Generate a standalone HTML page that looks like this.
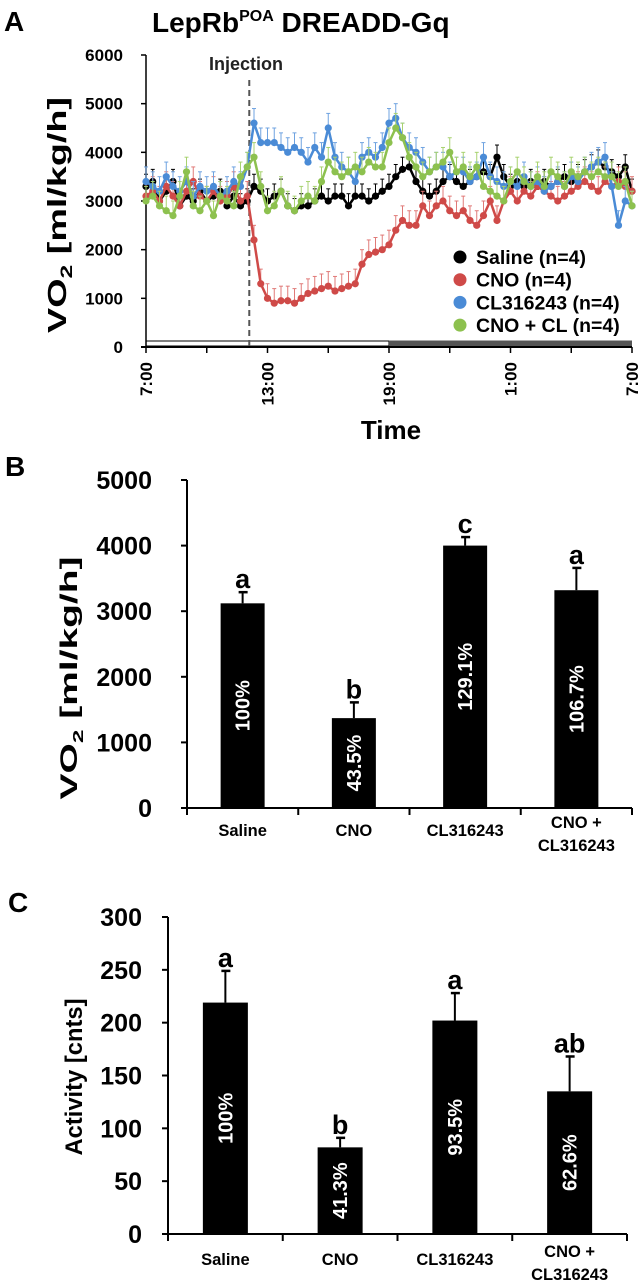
<!DOCTYPE html>
<html><head><meta charset="utf-8">
<style>
html,body{margin:0;padding:0;background:#fff;}
svg{display:block;font-family:"Liberation Sans",Arial,sans-serif;font-weight:bold;}
</style></head>
<body>
<svg id="fig" width="644" height="1280" viewBox="0 0 644 1280" xmlns="http://www.w3.org/2000/svg">
<rect width="644" height="1280" fill="#fff"/>
<text x="4" y="31" font-size="28">A</text>
<text x="152" y="32" font-size="28">LepRb<tspan font-size="16" dy="-11">POA</tspan><tspan dy="11"> DREADD-Gq</tspan></text>
<text x="5" y="476" font-size="28">B</text>
<text x="8" y="912" font-size="28">C</text>
<g id="pa"></g>
<g id="pb"></g>
<g id="pc"></g>
</svg>
<script>
// ---------- Panel A data (every 20 min from 7:00) ----------
const timeTicks = ["7:00","","13:00","","19:00","","1:00","","7:00"];
const yTicksA = [0,1000,2000,3000,4000,5000,6000];
const seriesNames = ["Saline (n=4)","CNO (n=4)","CL316243 (n=4)","CNO + CL (n=4)"];
const saline = [3300,3400,3000,3200,3400,2900,3100,3000,3200,3000,3100,3200,2900,3100,2900,3000,3300,3200,3000,3100,3200,2900,2800,2900,2900,3000,3100,3000,3100,3100,2900,3100,3100,3000,3100,3200,3300,3500,3650,3700,3400,3200,3100,3200,3400,3500,3400,3300,3400,3500,3600,3500,3900,3500,3300,3400,3300,3400,3300,3400,3300,3400,3500,3400,3500,3600,3700,3800,3700,3600,3500,3700,3200];
const cno = [3100,3200,3000,3300,3100,2900,3200,3400,3100,3000,3200,3000,3100,3300,3000,3100,2200,1300,1000,900,950,950,900,1000,1100,1150,1200,1250,1150,1200,1250,1300,1700,1900,1950,2000,2100,2400,2600,2500,2500,2900,2700,2900,3000,2800,2700,2800,2600,2500,2700,3000,2600,3000,3200,3000,3200,3100,3300,3200,3100,3000,3100,3200,3300,3400,3300,3200,3400,3300,3400,3300,3200];
const cl = [3400,3300,3200,3500,3300,3200,3400,3100,3300,3200,3300,3100,3200,3400,3300,3700,4600,4200,4200,4200,4100,4000,4100,4000,3800,4100,3900,4500,3900,3700,3600,3400,3900,4000,3900,4100,4600,4700,4300,4100,4000,3800,3600,3700,3700,3500,3600,3600,3400,3500,3900,3500,3400,3300,3400,3300,3500,3300,3400,3200,3300,3400,3300,3500,3400,3600,3700,3800,3900,3300,2500,3000,2900];
const cnocl = [3000,3100,2900,2800,2700,3100,3600,2900,2800,3000,2700,3100,3000,2900,3500,3700,3900,3300,2800,2900,3200,2900,2800,3000,3100,3000,3400,3800,3600,3500,3600,3700,3600,3800,3700,3700,4200,4500,4300,3900,3700,3500,3600,3700,3800,4000,3600,3700,3500,3700,3300,3200,3100,3000,3400,3600,3400,3300,3500,3300,3600,3500,3300,3600,3500,3600,3500,3600,3500,3500,3300,3400,2900];
const seriesErr = [250,300,300,300];
const injectionHour = 5.1;

// ---------- Panel B / C data ----------
const categories = ["Saline","CNO","CL316243","CNO +|CL316243"];
const vo2Means = [3120,1370,4000,3320];
const vo2Err = [170,240,130,340];
const vo2Letters = ["a","b","c","a"];
const vo2Pct = ["100%","43.5%","129.1%","106.7%"];
const yTicksB = [0,1000,2000,3000,4000,5000];
const actMeans = [219,82,202,135];
const actErr = [30,9,26,33];
const actLetters = ["a","b","a","ab"];
const actPct = ["100%","41.3%","93.5%","62.6%"];
const yTicksC = [0,50,100,150,200,250,300];

const NS="http://www.w3.org/2000/svg";
function mk(parent,tag,attrs,text){const e=document.createElementNS(NS,tag);for(const k in attrs)e.setAttribute(k,attrs[k]);if(text!==undefined)e.textContent=text;parent.appendChild(e);return e;}

// ---------- Panel A ----------
(function(){
 const g=document.getElementById('pa');
 const x0=146,x1=632,y0=347,yTop=55;
 const xh=h=>x0+(x1-x0)*h/24;
 const xi=i=>xh(i/3);
 const y=v=>y0-(y0-yTop)*v/6000;
 // light/dark bar
 let e=mk(g,'rect',{x:xh(0),y:341,width:xh(12)-xh(0),height:5,fill:'#fff',stroke:'#000','stroke-width':1});
 
 
 e=mk(g,'rect',{x:xh(12),y:340.5,width:xh(24)-xh(12),height:6,fill:'#555'});
 
 
 // axes
 e=mk(g,'line',{x1:x0,y1:yTop,x2:x0,y2:y0,stroke:'#000','stroke-width':1.5});
 
 
 e=mk(g,'line',{x1:x0-5,y1:y0,x2:x1,y2:y0,stroke:'#000','stroke-width':2});
 
 
 yTicksA.forEach(v=>{
  let t=mk(g,'line',{x1:x0-5,y1:y(v),x2:x0,y2:y(v),stroke:'#000','stroke-width':1.5});
  
  
  t=mk(g,'text',{x:123,y:y(v)+6,'font-size':17,'text-anchor':'end'},String(v));
  
  
 });
 timeTicks.forEach((lab,k)=>{
  const xx=xh(k*3);
  let t=mk(g,'line',{x1:xx,y1:y0,x2:xx,y2:y0+6,stroke:'#000','stroke-width':1.5});
  
  
  if(lab){
   t=mk(g,'text',{x:0,y:0,'font-size':17,'text-anchor':'end',transform:`translate(${xx+6},362) rotate(-90)`},lab);
   
   
  }
 });
 e=mk(g,'text',{x:0,y:0,'font-size':26,'text-anchor':'middle',textLength:236,lengthAdjust:'spacingAndGlyphs',transform:'translate(66,215) rotate(-90)'});
 e.innerHTML='VO<tspan font-size="17" dy="6">2</tspan><tspan dy="-6"> [ml/kg/h]</tspan>';
 
 
 e=mk(g,'text',{x:391,y:439,'font-size':26,'text-anchor':'middle'},'Time');
 
 
 // injection
 e=mk(g,'line',{x1:xh(injectionHour),y1:80,x2:xh(injectionHour),y2:y0,stroke:'#555','stroke-width':2,'stroke-dasharray':'6,4'});
 
 
 e=mk(g,'text',{x:209,y:70,'font-size':18,fill:'#222'},'Injection');
 
 
 const data=[saline,cno,cl,cnocl];
 const cols=['#000','#cf4a48','#4a8bd6','#8dc14f'];
 const ecols=['#000','#e07a78','#6fa3e0','#a8d270'];
 data.forEach((arr,s)=>{
  const sg=mk(g,'g',{});
  
  
  arr.forEach((v,i)=>{
   const b=mk(sg,'line',{x1:xi(i),y1:y(v),x2:xi(i),y2:y(v+seriesErr[s]),stroke:ecols[s],'stroke-width':1});
   
   
   const c=mk(sg,'line',{x1:xi(i)-2,y1:y(v+seriesErr[s]),x2:xi(i)+2,y2:y(v+seriesErr[s]),stroke:ecols[s],'stroke-width':1});
   
   
  });
  const p=mk(sg,'polyline',{points:arr.map((v,i)=>xi(i)+','+y(v)).join(' '),fill:'none',stroke:cols[s],'stroke-width':2.5});
  
  
  arr.forEach((v,i)=>{
   const d=mk(sg,'circle',{cx:xi(i),cy:y(v),r:3.6,fill:cols[s]});
   
   
  });
 });
 seriesNames.forEach((n,k)=>{
  const ly=257+k*22.7;
  const lg=mk(g,'g',{});
  
  
  let d=mk(lg,'circle',{cx:460,cy:ly,r:6.5,fill:cols[k]});
  
  
  d=mk(lg,'text',{x:476,y:ly+7,'font-size':19.5},n);
  
  
 });
})();

// ---------- Bar panels ----------
function barPanel(id,o){
 const g=document.getElementById(id);
 const y=v=>o.y0-(o.y0-o.yTop)*v/o.max;
 const band=(o.x1-o.x0)/o.means.length;
 let e=mk(g,'line',{x1:o.x0,y1:o.yTop,x2:o.x0,y2:o.y0,stroke:'#000','stroke-width':2});
 
 
 e=mk(g,'line',{x1:o.x0-6,y1:o.y0,x2:o.x1,y2:o.y0,stroke:'#000','stroke-width':2});
 
 
 o.ticks.forEach(v=>{
  let t=mk(g,'line',{x1:o.x0-6,y1:y(v),x2:o.x0,y2:y(v),stroke:'#000','stroke-width':2});
  
  
  t=mk(g,'text',{x:o.labR,y:y(v)+9,'font-size':25,'text-anchor':'end'},String(v));
  
  
 });
 for(let k=0;k<=o.means.length;k++){
  const t=mk(g,'line',{x1:o.x0+k*band,y1:o.y0,x2:o.x0+k*band,y2:o.y0+7,stroke:'#000','stroke-width':2});
  
  
 }
 o.means.forEach((v,k)=>{
  const cx=o.x0+band*(k+0.5);
  const bw=o.bw;
  let r=mk(g,'rect',{x:cx-bw/2,y:y(v),width:bw,height:o.y0-y(v),fill:'#000'});
  
  
  const et=y(v+o.err[k]);
  r=mk(g,'line',{x1:cx,y1:y(v),x2:cx,y2:et,stroke:'#000','stroke-width':2});
  
  
  r=mk(g,'line',{x1:cx-4,y1:et,x2:cx+5,y2:et,stroke:'#000','stroke-width':2.5});
  
  
  r=mk(g,'text',{x:cx,y:et-4,'font-size':27,'text-anchor':'middle'},o.letters[k]);
  
  
  const my=(y(v)+o.y0)/2;
  r=mk(g,'text',{x:0,y:0,'font-size':20,fill:'#fff','text-anchor':'middle',transform:`translate(${cx+7},${my}) rotate(-90)`},o.pct[k]);
  
  
  const parts=o.cats[k].split('|');
  parts.forEach((p,j)=>{
   const ty=parts.length>1?o.catY-8+j*23:o.catY;
   const t=mk(g,'text',{x:cx,y:ty,'font-size':16.5,'text-anchor':'middle'},p);
   
   
  });
 });
 e=mk(g,'text',{x:0,y:0,'font-size':24,'text-anchor':'middle',textLength:o.ylLen,lengthAdjust:'spacingAndGlyphs',transform:`translate(${o.ylX},${o.ylY}) rotate(-90)`});
 e.innerHTML=o.ylabel;
 
 
}
barPanel('pb',{x0:187,x1:632,y0:808,yTop:480,max:5000,ticks:yTicksB,labR:152,bw:44,
 means:vo2Means,err:vo2Err,letters:vo2Letters,pct:vo2Pct,cats:categories,catY:836,
 ylabel:'VO<tspan font-size="15" dy="6">2</tspan><tspan dy="-6"> [ml/kg/h]</tspan>',ylX:77,ylY:678,ylLen:243});
barPanel('pc',{x0:168,x1:627,y0:1234,yTop:917,max:300,ticks:yTicksC,labR:142,bw:45,
 means:actMeans,err:actErr,letters:actLetters,pct:actPct,cats:categories,catY:1265,
 ylabel:'Activity [cnts]',ylX:82,ylY:1077,ylLen:157});
</script>
</body></html>
